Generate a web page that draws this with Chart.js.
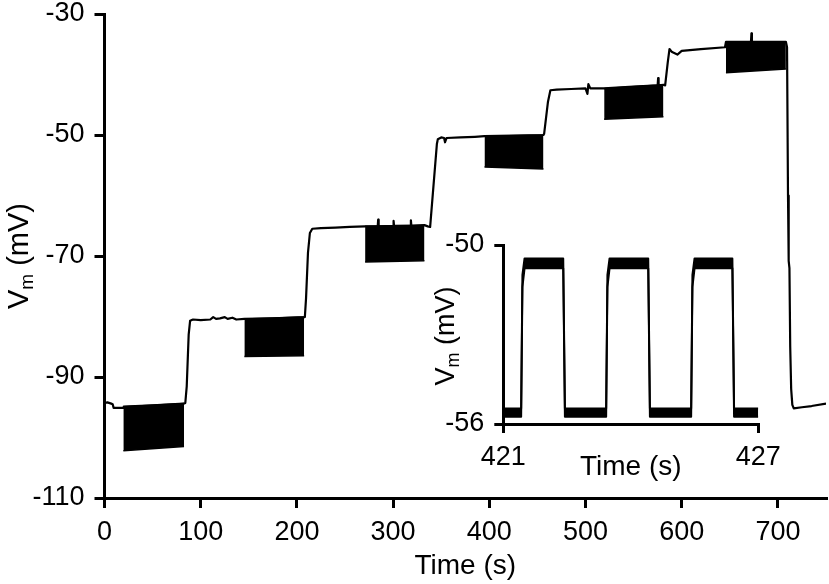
<!DOCTYPE html>
<html>
<head>
<meta charset="utf-8">
<script src="https://cdn.jsdelivr.net/npm/chart.js@4.4.1/dist/chart.umd.min.js"></script>
<style>
  html, body { margin: 0; padding: 0; background: #fff; }
  #wrap { position: relative; width: 829px; height: 584px; }
  #wrap canvas { position: absolute; left: 0; top: 0; }
</style>
</head>
<body>
<div id="wrap">
  <canvas id="main" width="829" height="584"></canvas>
  <canvas id="inset" width="829" height="584"></canvas>
</div>
<script>
// ---------- main trace (time s, Vm mV) ----------
const traceTime = [0, 3, 7, 8.5, 9.5, 19.6, 20, 50, 82.7, 84, 85.5, 87.5, 89, 92, 100, 110, 113, 116, 120, 125, 128, 133, 137, 145.4, 175, 207.5, 208.3, 209.5, 211.5, 213.5, 216, 225, 240, 255, 270.9, 284, 284.5, 285, 300, 300.5, 301, 318, 318.5, 319, 332.6, 336, 338.5, 345.5, 346.5, 350, 353, 354, 355.5, 370, 385, 395, 425, 456.3, 457, 461, 463.5, 470, 485, 500, 502, 503, 505, 519.4, 550, 575, 575.5, 576, 581, 582.8, 585.5, 587.3, 590, 595.5, 600, 620, 645, 646, 672, 672.5, 673, 708.3, 709.5, 710.5, 711.2, 712, 712.8, 713.8, 715, 716.5, 725, 735, 750];
const traceV = [-94.3, -94.2, -94.4, -94.5, -95.1, -95.1, -94.9, -94.7, -94.4, -94.3, -91.5, -83, -80.7, -80.5, -80.6, -80.5, -80.1, -80.4, -80.3, -80.1, -80.4, -80.2, -80.5, -80.4, -80.3, -80.1, -80.0, -77, -69.5, -66.2, -65.5, -65.4, -65.3, -65.2, -65.1, -65.1, -64.0, -65.1, -65.0, -64.2, -65.0, -65.0, -64.1, -65.0, -64.9, -65.1, -65.2, -51.5, -50.7, -50.4, -50.5, -51.2, -50.5, -50.4, -50.3, -50.2, -50.1, -50.0, -49.8, -44.5, -42.6, -42.5, -42.4, -42.3, -43.2, -41.6, -42.3, -42.3, -42.0, -41.8, -40.6, -41.8, -41.7, -41.8, -38, -35.8, -36.3, -36.7, -36.1, -35.8, -35.5, -34.6, -34.6, -33.2, -34.6, -34.6, -35.5, -60, -70.8, -72, -85, -92, -94.6, -95.2, -95.0, -94.8, -94.4];

// ---------- stimulation blocks (dense square-wave envelopes) ----------
const blockStart       = [19.6, 145.4, 270.9, 395.0, 519.4, 646.0];
const blockEnd         = [82.7, 207.5, 332.6, 456.3, 581.0, 708.3];
const blockTopStart    = [-94.9, -80.4, -65.1, -50.2, -42.3, -34.6];
const blockTopEnd      = [-94.4, -80.1, -64.9, -50.0, -41.7, -34.6];
const blockBottomStart = [-102.2, -86.6, -71.0, -55.3, -47.4, -39.7];
const blockBottomEnd   = [-101.5, -86.5, -70.8, -55.6, -47.0, -39.1];

const xTicksMain = [0, 100, 200, 300, 400, 500, 600, 700];
const yTicksMain = [-110, -90, -70, -50, -30];

// ---------- inset (zoom 421-427 s) ----------
const insetTime   = [421.00, 421.42, 421.45, 421.50, 422.41, 422.45, 423.42, 423.45, 423.50, 424.41, 424.45, 425.42, 425.45, 425.50, 426.39, 426.43, 427.00];
const insetUpper  = [-55.48, -55.48, -51.0, -50.45, -50.45, -55.48, -55.48, -51.0, -50.45, -50.45, -55.48, -55.48, -51.0, -50.45, -50.45, -55.48, -55.48];
const insetLower  = [-55.76, -55.76, -51.4, -50.78, -50.78, -55.76, -55.76, -51.4, -50.78, -50.78, -55.76, -55.76, -51.4, -50.78, -50.78, -55.76, -55.76];
const xTicksInset = [421, 427];
const yTicksInset = [-56, -50];

const FONT = '"Liberation Sans", Arial, Helvetica, sans-serif';
Chart.defaults.font.family = FONT;
Chart.defaults.color = '#000';

// rotated axis title with subscript ("V" + "m" + " (mV)")
const subTitlePlugin = {
  id: 'subTitle',
  afterDraw(chart, args, o) {
    if (!o || !o.main) return;
    const ctx = chart.ctx;
    ctx.save();
    ctx.fillStyle = '#000';
    ctx.translate(o.x, o.y);
    ctx.rotate(-Math.PI / 2);
    const big = o.size + 'px ' + FONT;
    const small = o.subSize + 'px ' + FONT;
    ctx.font = big;
    const w1 = ctx.measureText(o.main).width;
    const w3 = ctx.measureText(o.rest).width;
    ctx.font = small;
    const w2 = ctx.measureText(o.sub).width;
    const x0 = -(w1 + w2 + w3) / 2;
    ctx.textAlign = 'left';
    ctx.textBaseline = 'alphabetic';
    ctx.font = big; ctx.fillText(o.main, x0, 0);
    ctx.font = small; ctx.fillText(o.sub, x0 + w1, o.subShift);
    ctx.font = big; ctx.fillText(o.rest, x0 + w1 + w2, 0);
    ctx.restore();
  }
};

const pts = (xs, ys) => xs.map((x, i) => ({ x: x, y: ys[i] }));
const noPadY = (w) => (s) => { s.width = w; s.paddingTop = 0; s.paddingBottom = 0; };
const noPadX = (h) => (s) => { s.height = h; s.paddingLeft = 0; s.paddingRight = 0; };

// ---------- main chart ----------
const mainSets = [{
  data: pts(traceTime, traceV),
  borderColor: '#000', borderWidth: 2.2, borderJoinStyle: 'round', pointRadius: 0, fill: false, tension: 0
}];
blockStart.forEach((s, i) => {
  mainSets.push({
    data: [{ x: s, y: blockTopStart[i] }, { x: blockEnd[i], y: blockTopEnd[i] }],
    borderColor: '#000', borderWidth: 1.5, pointRadius: 0, fill: false
  });
  mainSets.push({
    data: [{ x: s, y: blockBottomStart[i] }, { x: blockEnd[i], y: blockBottomEnd[i] }],
    borderColor: '#000', backgroundColor: '#000', borderWidth: 1.5, pointRadius: 0, fill: '-1'
  });
});

new Chart(document.getElementById('main'), {
  type: 'line',
  data: { datasets: mainSets },
  plugins: [subTitlePlugin],
  options: {
    responsive: false, animation: false,
    layout: { padding: { left: 0, right: 3, top: 14, bottom: 0 } },
    plugins: {
      legend: { display: false }, tooltip: { enabled: false },
      subTitle: { main: 'V', sub: 'm', rest: ' (mV)', x: 28, y: 256, size: 29, subSize: 19, subShift: 5 }
    },
    scales: {
      x: {
        type: 'linear', min: 0, max: 750,
        afterBuildTicks: s => { s.ticks = xTicksMain.map(v => ({ value: v })); },
        afterFit: noPadX(86),
        grid: { display: true, drawOnChartArea: false, drawTicks: true, tickLength: 10, lineWidth: 3, color: '#000' },
        border: { display: true, width: 3, color: '#000' },
        ticks: { font: { size: 27 }, padding: 8, maxRotation: 0 },
        title: { display: true, text: 'Time (s)', font: { size: 28 }, padding: { top: 0, bottom: 1 } }
      },
      y: {
        type: 'linear', min: -110, max: -30,
        afterBuildTicks: s => { s.ticks = yTicksMain.map(v => ({ value: v })); },
        afterFit: noPadY(104.5),
        grid: { display: true, drawOnChartArea: false, drawTicks: true, tickLength: 10, lineWidth: 3, color: '#000' },
        border: { display: true, width: 3, color: '#000' },
        ticks: { font: { size: 27 }, padding: 10 }
      }
    }
  }
});

// ---------- inset chart ----------
new Chart(document.getElementById('inset'), {
  type: 'line',
  data: {
    datasets: [
      { data: pts(insetTime, insetUpper), borderColor: '#000', borderWidth: 2, borderJoinStyle: 'round', pointRadius: 0, fill: false },
      { data: pts(insetTime, insetLower), borderColor: '#000', backgroundColor: '#000', borderWidth: 2, borderJoinStyle: 'round', pointRadius: 0, fill: '-1' }
    ]
  },
  plugins: [subTitlePlugin],
  options: {
    responsive: false, animation: false,
    layout: { padding: { left: 443.3, right: 70.7, top: 245, bottom: 100 } },
    plugins: {
      legend: { display: false }, tooltip: { enabled: false },
      subTitle: { main: 'V', sub: 'm', rest: ' (mV)', x: 454, y: 336, size: 27, subSize: 18, subShift: 5 }
    },
    scales: {
      x: {
        type: 'linear', min: 421, max: 427,
        afterBuildTicks: s => { s.ticks = xTicksInset.map(v => ({ value: v })); },
        afterFit: noPadX(60),
        grid: { display: true, drawOnChartArea: false, drawTicks: true, tickLength: 9, lineWidth: 3, color: '#000' },
        border: { display: true, width: 3, color: '#000' },
        ticks: { font: { size: 27 }, padding: 8, maxRotation: 0 },
        title: { display: true, text: 'Time (s)', font: { size: 28 }, padding: { top: 0, bottom: 0 } }
      },
      y: {
        type: 'linear', min: -56, max: -50,
        afterBuildTicks: s => { s.ticks = yTicksInset.map(v => ({ value: v })); },
        afterFit: noPadY(60),
        grid: { display: true, drawOnChartArea: false, drawTicks: true, tickLength: 9, lineWidth: 3, color: '#000' },
        border: { display: true, width: 3, color: '#000' },
        ticks: { font: { size: 27 }, padding: 10 }
      }
    }
  }
});
</script>
</body>
</html>
